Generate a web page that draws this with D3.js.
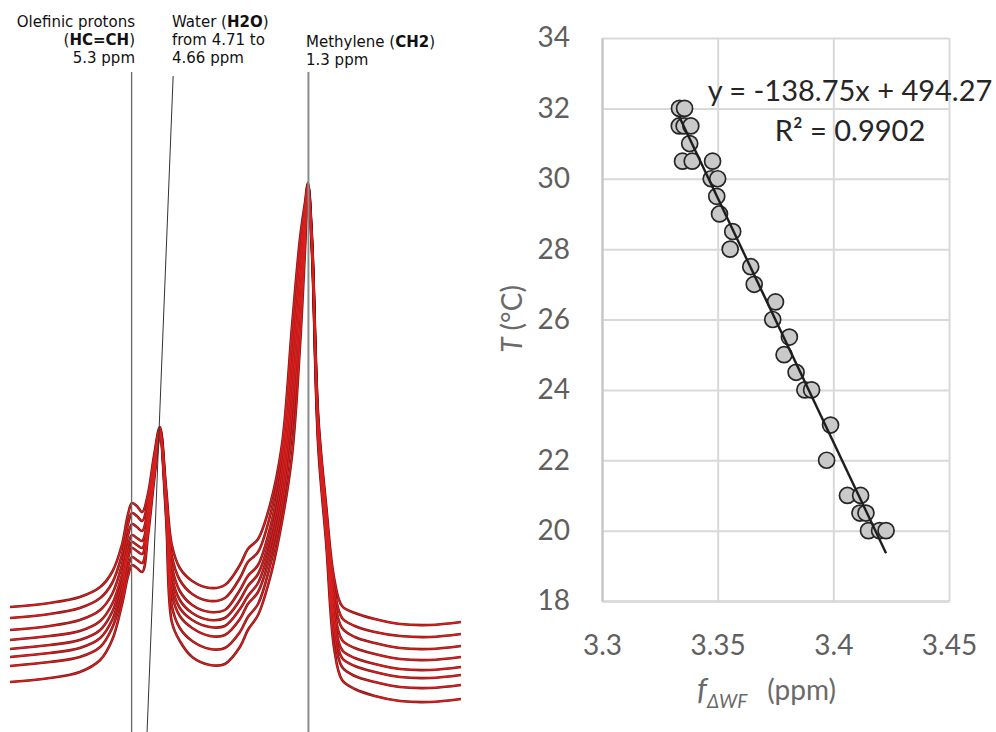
<!DOCTYPE html>
<html>
<head>
<meta charset="utf-8">
<script src="https://cdn.jsdelivr.net/npm/d3@7"></script>
<style>
  body { margin: 0; background: #fff; }
  svg { display: block; }
</style>
</head>
<body>
<svg width="996" height="732"></svg>
<script>
// ---------- left panel : stacked 1H spectra (arbitrary intensity units)
var ppm = [8.05, 7.15, 6.47, 6.01, 5.74, 5.52, 5.38, 5.29, 5.18, 5.06,
           4.93, 4.79, 4.66, 4.52, 4.39, 4.21, 3.93, 3.53, 3.19, 2.85,
           2.67, 2.44, 2.17, 1.90, 1.67, 1.49, 1.38, 1.31, 1.22, 1.08,
           0.90, 0.72, 0.54, 0.25, -0.20, -0.77, -1.45, -2.15];

var spec1 = [125, 129, 135, 145, 160, 187, 218, 229, 226, 220, 238, 277, 305, 244, 187, 164, 151, 144, 147, 167, 183, 193, 227, 287, 407, 494, 529, 549, 494, 317, 227, 154, 126, 119, 113, 108, 107, 110];
var spec2 = [114, 118, 124, 134, 149, 177, 208, 219, 216, 211, 231, 273, 304, 239, 176, 152, 138, 131, 134, 154, 170, 180, 216, 277, 390, 480, 524, 548, 492, 313, 221, 144, 114, 106, 100, 96, 95, 98];
var spec3 = [102, 106, 112, 122, 138, 167, 197, 208, 205, 201, 224, 269, 302, 235, 166, 141, 127, 120, 122, 142, 156, 167, 204, 265, 372, 466, 518, 547, 490, 309, 216, 134, 104, 95, 89, 84, 83, 86];
var spec4 = [92, 96, 101, 111, 128, 157, 187, 197, 194, 191, 217, 265, 301, 231, 156, 132, 119, 112, 114, 132, 146, 158, 194, 254, 355, 452, 512, 546, 488, 305, 211, 125, 92, 84, 78, 73, 72, 75];
var spec5 = [83, 87, 92, 102, 120, 150, 180, 190, 187, 184, 212, 262, 299, 227, 147, 124, 112, 105, 106, 123, 136, 149, 185, 243, 338, 438, 506, 545, 486, 301, 206, 116, 82, 74, 68, 63, 62, 65];
var spec6 = [75, 79, 84, 94, 112, 143, 174, 184, 181, 178, 208, 259, 298, 224, 138, 116, 104, 96, 97, 113, 128, 140, 176, 232, 322, 424, 499, 544, 484, 297, 201, 108, 74, 66, 60, 55, 54, 57];
var spec7 = [66, 70, 75, 85, 104, 135, 165, 175, 172, 169, 202, 256, 296, 220, 126, 104, 91, 83, 84, 100, 115, 128, 166, 222, 302, 407, 491, 543, 482, 292, 196, 98, 65, 56, 50, 45, 44, 47];
var spec8 = [50, 54, 60, 72, 92, 127, 156, 167, 164, 160, 196, 252, 294, 214, 110, 91, 75, 67, 68, 85, 102, 117, 154, 210, 277, 387, 480, 542, 479, 286, 189, 84, 52, 43, 36, 31, 30, 33];

var peakLines = [5.3, 1.3];      // olefinic, methylene
var waterGuide = [4.36, 4.95];   // slanted guide, top -> bottom

// ---------- right panel : calibration
var fWF = [3.3335, 3.3357,
           3.3334, 3.3355, 3.3384,
           3.3379,
           3.3348, 3.3390, 3.3478,
           3.3472, 3.3500,
           3.3496, 3.3508, 3.3565, 3.3554, 3.3643, 3.3658, 3.3750, 3.3738,
           3.3810, 3.3787, 3.3839,
           3.3877, 3.3906,
           3.3988, 3.3971,
           3.4061, 3.4118,
           3.4115, 3.4141,
           3.4152, 3.4200, 3.4228];
var tempC = [32, 32,
             31.5, 31.5, 31.5,
             31,
             30.5, 30.5, 30.5,
             30, 30,
             29.5, 29, 28.5, 28, 27.5, 27, 26.5, 26,
             25.5, 25, 24.5,
             24, 24,
             23, 22,
             21, 21,
             20.5, 20.5,
             20, 20, 20];

var xTicks = [3.3, 3.35, 3.4, 3.45];
var yTicks = [18, 20, 22, 24, 26, 28, 30, 32, 34];
var slope = -138.75, intercept = 494.27, rSquared = 0.9902;

var svg = d3.select("svg");

// ===== left panel
var specs = [spec1, spec2, spec3, spec4, spec5, spec6, spec7, spec8];

var px = d3.scaleLinear().domain([8.05, -2.15]).range([10, 461]);
var py = d3.scaleLinear().domain([0, 600]).range([732, 132]);

var left = svg.append("g");

var specLine = d3.line()
    .x(function(d, i) { return px(ppm[i]); })
    .y(function(d) { return py(d); })
    .curve(d3.curveCatmullRom.alpha(0.5));

// dark edge under the red trace
left.selectAll("path.edge")
  .data(specs)
  .enter().append("path")
    .attr("class", "edge")
    .attr("d", specLine)
    .attr("fill", "none")
    .attr("stroke", "#7c1414")
    .attr("stroke-width", 2.6);

left.selectAll("path.spec")
  .data(specs)
  .enter().append("path")
    .attr("class", "spec")
    .attr("d", specLine)
    .attr("fill", "none")
    .attr("stroke", "#d8201f")
    .attr("stroke-width", 1.3);

// guide lines
left.selectAll("line.peak")
  .data(peakLines)
  .enter().append("line")
    .attr("x1", function(d) { return px(d); })
    .attr("x2", function(d) { return px(d); })
    .attr("y1", 72).attr("y2", 732)
    .attr("stroke", function(d, i) { return i ? "#8a8a8a" : "#6a6a6a"; })
    .attr("stroke-width", function(d, i) { return i ? 2 : 1.3; });

left.append("line")
    .attr("x1", px(waterGuide[0])).attr("y1", 76)
    .attr("x2", px(waterGuide[1])).attr("y2", 732)
    .attr("stroke", "#333")
    .attr("stroke-width", 1);

// labels
function label(x, y, anchor, parts) {
  var t = left.append("text")
      .attr("x", x).attr("y", y)
      .attr("text-anchor", anchor)
      .style("font-family", "'DejaVu Sans', sans-serif")
      .style("font-size", "15px")
      .attr("fill", "#111");
  parts.forEach(function(p) {
    t.append("tspan").text(p[0]).style("font-weight", p[1] ? "bold" : "normal");
  });
}
label(135, 27, "end", [["Olefinic protons"]]);
label(135, 45, "end", [["("], ["HC=CH", 1], [")"]]);
label(135, 63, "end", [["5.3 ppm"]]);
label(172, 27, "start", [["Water ("], ["H2O", 1], [")"]]);
label(172, 45, "start", [["from 4.71 to"]]);
label(172, 63, "start", [["4.66 ppm"]]);
label(306, 47, "start", [["Methylene ("], ["CH2", 1], [")"]]);
label(306, 65, "start", [["1.3 ppm"]]);

// ===== right panel
var margin = {left: 602, top: 38};
var w = 347, h = 563;

var x = d3.scaleLinear().domain([3.3, 3.45]).range([0, w]);
var y = d3.scaleLinear().domain([18, 34]).range([h, 0]);

var g = svg.append("g")
    .attr("transform", "translate(" + margin.left + "," + margin.top + ")");

var gX = g.append("g")
    .attr("transform", "translate(0," + h + ")")
    .call(d3.axisBottom(x).tickValues(xTicks).tickFormat(String)
      .tickSize(-h).tickSizeOuter(0).tickPadding(34));

var gY = g.append("g")
    .call(d3.axisLeft(y).tickValues(yTicks).tickFormat(String)
      .tickSize(-w).tickSizeOuter(0).tickPadding(32));

[gX, gY].forEach(function(a) {
  a.selectAll(".tick line").attr("stroke", "#d9d9d9").attr("stroke-width", 2);
  a.select(".domain").attr("stroke", "#c4c4c4").attr("stroke-width", 2);
  a.selectAll(".tick text")
    .style("font-family", "Lato, sans-serif")
    .style("font-size", "28px")
    .attr("fill", "#5f5f5f");
});
gY.select(".domain").raise();
gX.select(".domain").raise();

// points
g.selectAll("circle")
  .data(fWF)
  .enter().append("circle")
    .attr("cx", function(d) { return x(d); })
    .attr("cy", function(d, i) { return y(tempC[i]); })
    .attr("r", 8)
    .attr("fill", "#c9c9c9")
    .attr("stroke", "#262626")
    .attr("stroke-width", 1.7);

// linear trend
var ext = d3.extent(fWF);
g.append("path")
  .datum(ext)
  .attr("d", d3.line()
      .x(function(d) { return x(d); })
      .y(function(d) { return y(slope * d + intercept); }))
  .attr("stroke", "#1e1e1e")
  .attr("stroke-width", 2.4)
  .attr("fill", "none");

// trend label
var eq = svg.append("text")
    .attr("text-anchor", "middle")
    .style("font-family", "Lato, sans-serif")
    .style("font-size", "29px")
    .attr("fill", "#262626");
eq.append("tspan").attr("x", 850).attr("y", 101)
    .text("y = " + slope + "x + " + intercept);
eq.append("tspan").attr("x", 850).attr("y", 141)
    .text("R\u00b2 = " + rSquared);

// axis titles
var yt = svg.append("text")
    .attr("transform", "translate(522,319) rotate(-90)")
    .attr("text-anchor", "middle")
    .style("font-family", "Lato, sans-serif")
    .style("font-size", "28px")
    .attr("fill", "#6a6a6a");
yt.append("tspan").style("font-style", "italic").text("T");
yt.append("tspan").text(" (\u00b0C)");

var xt = svg.append("text")
    .attr("x", 697).attr("y", 700)
    .style("font-family", "Lato, sans-serif")
    .style("font-size", "28px")
    .attr("fill", "#6a6a6a");
xt.append("tspan").style("font-style", "italic").style("font-size", "31px").text("f");
xt.append("tspan").attr("dy", 8).style("font-style", "italic").style("font-size", "19px").text("\u0394WF");
xt.append("tspan").attr("dy", -8).attr("dx", 20).text("(ppm)");
</script>
</body>
</html>
